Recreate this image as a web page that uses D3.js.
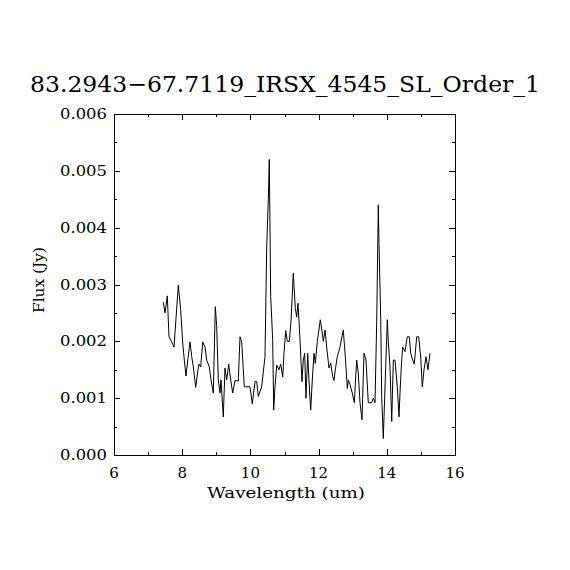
<!DOCTYPE html>
<html><head><meta charset="utf-8">
<script src="https://cdn.jsdelivr.net/npm/d3@7"></script>
<style>html,body{margin:0;padding:0;background:#fff}svg{display:block}</style>
</head><body>
<svg id="c" width="570" height="570"></svg>
<script>
const title = "83.2943\u221267.7119_IRSX_4545_SL_Order_1";
const xLabel = "Wavelength (um)";
const yLabel = "Flux (Jy)";
const xTicks = [6, 8, 10, 12, 14, 16];
const yTicks = [0, 0.001, 0.002, 0.003, 0.004, 0.005, 0.006];
const wavelength = [7.446,7.496,7.563,7.613,7.692,7.760,7.886,7.956,8.015,8.062,8.111,8.17,8.229,8.279,8.326,8.396,8.463,8.493,8.543,8.601,8.669,8.718,8.795,8.845,8.912,8.971,9.012,9.059,9.109,9.138,9.205,9.255,9.305,9.364,9.422,9.481,9.548,9.645,9.695,9.745,9.821,9.90,9.988,10.056,10.135,10.185,10.232,10.331,10.428,10.478,10.525,10.554,10.595,10.654,10.683,10.721,10.771,10.839,10.889,10.947,10.985,11.035,11.082,11.141,11.191,11.258,11.317,11.358,11.396,11.455,11.513,11.551,11.592,11.630,11.680,11.718,11.768,11.815,11.865,11.903,11.962,12.050,12.100,12.138,12.188,12.237,12.305,12.355,12.413,12.452,12.490,12.548,12.628,12.724,12.783,12.842,12.871,12.921,12.988,13.047,13.117,13.164,13.214,13.273,13.331,13.390,13.457,13.557,13.604,13.654,13.704,13.751,13.771,13.821,13.850,13.897,14.015,14.044,14.094,14.144,14.191,14.24,14.308,14.358,14.387,14.425,14.466,14.534,14.601,14.660,14.701,14.760,14.806,14.877,14.935,14.994,15.041,15.091,15.15,15.208,15.267];
const flux = [0.00269,0.00250,0.00280,0.00208,0.00199,0.00190,0.00299,0.00255,0.00197,0.00167,0.00139,0.00170,0.00199,0.00173,0.00155,0.00119,0.00150,0.00160,0.00155,0.00199,0.00190,0.00167,0.00155,0.00132,0.00109,0.00261,0.00226,0.00132,0.00109,0.00132,0.00067,0.00153,0.00132,0.00160,0.00132,0.00109,0.00131,0.00130,0.00208,0.00199,0.00120,0.00120,0.00120,0.00090,0.00129,0.00129,0.00103,0.00120,0.00173,0.00364,0.00449,0.00520,0.00279,0.00202,0.00079,0.00120,0.00158,0.00150,0.00160,0.00137,0.00179,0.00219,0.00200,0.00200,0.00235,0.00320,0.00258,0.00243,0.00267,0.00202,0.00129,0.00167,0.00179,0.00100,0.00179,0.00132,0.00079,0.00132,0.00179,0.00161,0.00200,0.00238,0.00218,0.00200,0.00220,0.00190,0.00153,0.00162,0.00138,0.00131,0.00150,0.00173,0.00190,0.00220,0.00173,0.00117,0.00132,0.00124,0.00109,0.00092,0.00167,0.00144,0.00092,0.00062,0.00179,0.00167,0.00092,0.00092,0.00100,0.00092,0.00235,0.00440,0.00372,0.00243,0.00103,0.00029,0.00238,0.00200,0.00155,0.00059,0.00167,0.00167,0.00120,0.00067,0.00109,0.00155,0.00190,0.00182,0.00208,0.00208,0.00179,0.00167,0.00160,0.00208,0.00208,0.00173,0.00120,0.00150,0.00173,0.00150,0.00179];

const svg = d3.select("#c");
const L = 114, R = 455, T = 114, B = 455;
const x = d3.scaleLinear().domain([6, 16]).range([L, R]);
const y = d3.scaleLinear().domain([0, 0.006]).range([B, T]);
const font = "'DejaVu Serif', 'Liberation Serif', serif";

// frame
svg.append("rect").attr("x", L + 0.5).attr("y", T + 0.5).attr("width", R - L).attr("height", B - T)
  .attr("fill", "none").attr("stroke", "#000").attr("stroke-width", 1).attr("shape-rendering", "crispEdges");

const xMinor = d3.range(6, 16.01, 1);
const yMinor = d3.range(0, 0.00601, 0.0005);
const g = svg.append("g").attr("stroke", "#000").attr("stroke-width", 1).attr("shape-rendering", "crispEdges");
xMinor.forEach(v => {
  const major = Math.round(v) % 2 === 0;
  const len = major ? 6 : 3;
  const px = Math.round(x(v)) + 0.5;
  g.append("line").attr("x1", px).attr("x2", px).attr("y1", B).attr("y2", B - len);
  g.append("line").attr("x1", px).attr("x2", px).attr("y1", T).attr("y2", T + len);
});
yMinor.forEach((v, i) => {
  const major = i % 2 === 0;
  const len = major ? 6 : 3;
  const py = Math.round(y(v)) + 0.5;
  g.append("line").attr("y1", py).attr("y2", py).attr("x1", L).attr("x2", L + len);
  g.append("line").attr("y1", py).attr("y2", py).attr("x1", R).attr("x2", R - len);
});

// tick labels
svg.append("g").selectAll("text").data(xTicks).join("text")
  .attr("x", d => x(d)).attr("y", 478).attr("text-anchor", "middle")
  .attr("font-family", font).attr("font-size", 15).text(d => d);
svg.append("g").selectAll("text").data(yTicks).join("text")
  .attr("x", 107).attr("y", d => y(d) + 5).attr("text-anchor", "end")
  .attr("textLength", 47).attr("lengthAdjust", "spacingAndGlyphs")
  .attr("font-family", font).attr("font-size", 15).text(d => d.toFixed(3));

// labels
svg.append("text").attr("x", 286).attr("y", 498).attr("text-anchor", "middle")
  .attr("textLength", 158).attr("lengthAdjust", "spacingAndGlyphs")
  .attr("font-family", font).attr("font-size", 15).text(xLabel);
svg.append("text").attr("transform", "translate(44,280) rotate(-90)").attr("text-anchor", "middle")
  .attr("textLength", 66).attr("lengthAdjust", "spacingAndGlyphs")
  .attr("font-family", font).attr("font-size", 15).text(yLabel);
svg.append("text").attr("x", 30).attr("y", 92)
  .attr("textLength", 510).attr("lengthAdjust", "spacingAndGlyphs")
  .attr("font-family", font).attr("font-size", 23).text(title);

// spectrum line
const pts = wavelength.map((w, i) => [w, flux[i]]);
svg.append("path").datum(pts)
  .attr("d", d3.line().x(d => x(d[0])).y(d => y(d[1])))
  .attr("fill", "none").attr("stroke", "#000").attr("stroke-width", 1);
</script>
</body></html>
